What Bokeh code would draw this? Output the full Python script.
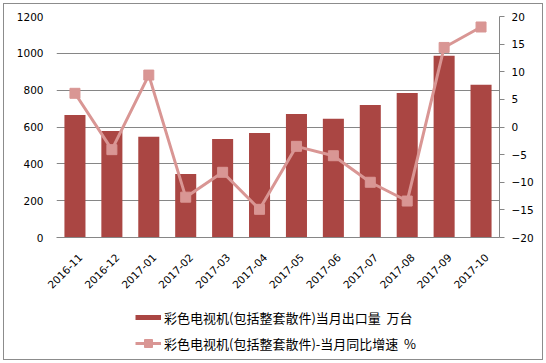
import numpy as np
from bokeh.plotting import figure
from bokeh.layouts import column
from bokeh.models import (Range1d, LinearAxis, FixedTicker, Legend, LegendItem,
                          ColumnDataSource)
from bokeh.embed import file_html
from bokeh.resources import INLINE

# ---- data ----
months = ["2016-11", "2016-12", "2017-01", "2017-02", "2017-03", "2017-04",
          "2017-05", "2017-06", "2017-07", "2017-08", "2017-09", "2017-10"]
export_volume = [665, 578, 547, 345, 535, 567, 671, 645, 720, 785, 987, 829]
yoy_growth = [6.1, -4.1, 9.4, -12.7, -8.2, -14.9, -3.5, -5.2, -10.0, -13.4, 14.4, 18.1]
left_ticks = [0, 200, 400, 600, 800, 1000, 1200]
right_ticks = [-20, -15, -10, -5, 0, 5, 10, 15, 20]
series_names = ["彩色电视机(包括整套散件)当月出口量  万台",
                "彩色电视机(包括整套散件)-当月同比增速  %"]

BAR = "#AA4643"
LINE = "#D99694"
GRID = "#868686"
FONT = "DejaVu Sans"

n = len(months)
xpos = [i + 0.5 for i in range(n)]   # category centres on a numeric scale
shift = 0.15                          # label anchor offset (in category units)

p = figure(width=538, height=291, x_range=Range1d(0, n),
           y_range=Range1d(0, 1200), output_backend="svg", toolbar_location=None,
           x_axis_location=None,
           min_border_left=52, min_border_right=43, min_border_top=12,
           min_border_bottom=58)
p.outline_line_color = None
p.extra_y_ranges = {"pct": Range1d(-20, 20)}
p.extra_x_ranges = {"lab": Range1d(-shift, n - shift)}

src = ColumnDataSource(dict(x=xpos, v=export_volume, g=yoy_growth))
bars = p.vbar(x="x", top="v", width=0.57, source=src, fill_color=BAR, line_color=None)
ln = p.line(x="x", y="g", source=src, y_range_name="pct", line_color=LINE, line_width=3)
sc = p.scatter(x="x", y="g", source=src, y_range_name="pct", marker="square", size=10,
               fill_color=LINE, line_color=LINE)

# left axis
ya = p.yaxis[0]
ya.ticker = FixedTicker(ticks=left_ticks)
ya.axis_line_color = None
ya.major_tick_line_color = None
ya.minor_tick_line_color = None
ya.major_tick_out = 0
ya.major_label_standoff = 13
ya.major_label_text_font = FONT
ya.major_label_text_font_size = "10.5px"
ya.major_label_text_color = "#000000"

# right axis
ra = LinearAxis(y_range_name="pct", ticker=FixedTicker(ticks=right_ticks))
ra.axis_line_color = GRID
ra.major_tick_line_color = GRID
ra.minor_tick_line_color = None
ra.major_tick_out = 5
ra.major_tick_in = 0
ra.major_label_standoff = 7
ra.major_label_text_font = FONT
ra.major_label_text_font_size = "10.5px"
ra.major_label_text_color = "#000000"
p.add_layout(ra, "right")

# x axis (category labels)
xa = LinearAxis(x_range_name="lab", ticker=FixedTicker(ticks=xpos),
                major_label_overrides={t: m for t, m in zip(xpos, months)})
xa.major_label_orientation = np.pi / 4
xa.axis_line_color = GRID
xa.major_tick_line_color = None
xa.minor_tick_line_color = None
xa.major_tick_out = 0
xa.major_tick_in = 0
xa.major_label_standoff = 18
xa.major_label_text_font = FONT
xa.major_label_text_font_size = "10.5px"
xa.major_label_text_color = "#000000"
p.add_layout(xa, "below")

p.ygrid.grid_line_color = GRID
p.ygrid.ticker = FixedTicker(ticks=left_ticks)
p.xgrid.visible = False

# legend panel (separate strip under the chart)
q = figure(width=538, height=64, x_range=Range1d(0, 1), y_range=Range1d(0, 1),
           output_backend="svg", toolbar_location=None,
           x_axis_location=None, y_axis_location=None,
           min_border_left=0, min_border_right=0, min_border_top=0, min_border_bottom=0)
q.outline_line_color = None
q.xgrid.visible = False
q.ygrid.visible = False
dummy = ColumnDataSource(dict(x=[-1.0], y=[-1.0]))
leg_bar = q.line(x="x", y="y", source=dummy, line_color=BAR, line_width=5)
leg_ln = q.line(x="x", y="y", source=dummy, line_color=LINE, line_width=3)
leg_sc = q.scatter(x="x", y="y", source=dummy, marker="square", size=9,
                   fill_color=LINE, line_color=LINE)

legend = Legend(items=[LegendItem(label=series_names[0], renderers=[leg_bar]),
                       LegendItem(label=series_names[1], renderers=[leg_ln, leg_sc])],
                location=(79, 6), orientation="vertical",
                glyph_width=26, glyph_height=20,
                label_height=20, spacing=6, label_standoff=3, padding=0, margin=0,
                border_line_color=None, background_fill_alpha=0,
                label_text_font="Noto Sans CJK SC", label_text_font_size="13px",
                label_text_color="#000000")
q.add_layout(legend, "center")

layout = column(p, q, spacing=0, margin=(3, 3, 3, 3),
                styles={"border": "1px solid #8c8c8c"})
open("out.html", "w").write(file_html(layout, INLINE))
